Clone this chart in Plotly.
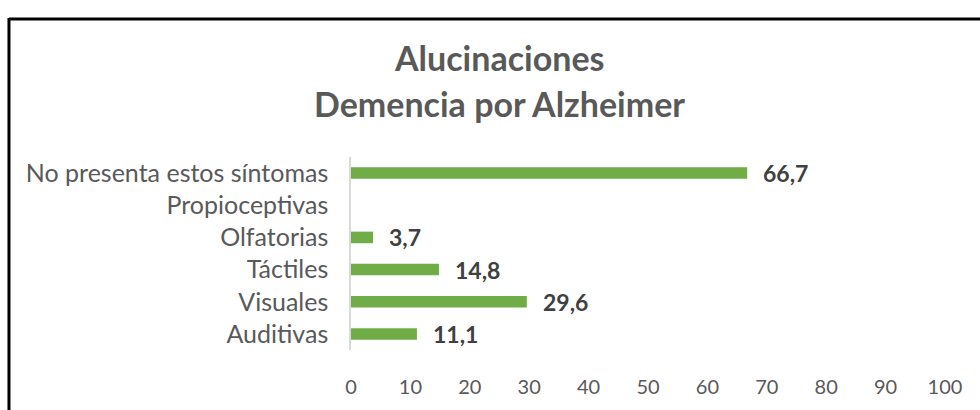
import plotly.graph_objects as go

categories = ["Auditivas", "Visuales", "Táctiles", "Olfatorias", "Propioceptivas", "No presenta estos síntomas"]
values = [11.1, 29.6, 14.8, 3.7, 0.0, 66.7]
x_ticks = [0, 10, 20, 30, 40, 50, 60, 70, 80, 90, 100]
title_lines = ["Alucinaciones", "Demencia por Alzheimer"]

labels = [f"{v:.1f}".replace(".", ",") if v > 0 else "" for v in values]

fig = go.Figure(go.Bar(
    y=categories, x=values, orientation="h",
    marker=dict(color="#70AD47", line=dict(width=0)),
    hoverinfo="skip",
))

annotations = [
    dict(x=v, y=c, text=f"<b>{t}</b>", showarrow=False, xanchor="left", xshift=14,
         font=dict(family="Lato", size=23, color="#404040"), xref="x", yref="y")
    for c, v, t in zip(categories, values, labels) if t
]
title_pos = [(0.2508, 1.5137), (0.2508, 1.2793)]
for line, (tx, ty) in zip(title_lines, title_pos):
    annotations.append(dict(
        x=tx, y=ty, xref="paper", yref="paper",
        text=f"<b>{line}</b>", showarrow=False,
        font=dict(family="Lato", size=34, color="#595959"), xanchor="center", yanchor="middle",
    ))

fig.update_layout(
    width=980, height=410,
    margin=dict(l=351, r=35, t=157, b=53),
    paper_bgcolor="white", plot_bgcolor="white",
    bargap=0.64,
    showlegend=False,
    annotations=annotations,
    xaxis=dict(range=[0, 100], tickvals=x_ticks, showgrid=False, zeroline=False, showline=False,
               tickfont=dict(family="Lato", size=20, color="#595959"), ticks="", ticklabelstandoff=23,
               fixedrange=True),
    yaxis=dict(showgrid=False, zeroline=False, showline=True, linecolor="#D9D9D9", linewidth=1.5,
               tickfont=dict(family="Lato", size=25, color="#595959"), ticks="", ticklabelstandoff=16,
               fixedrange=True),
    shapes=[
        dict(type="line", xref="paper", yref="paper", x0=-0.5758, x1=1.2, y0=1.715, y1=1.715,
             line=dict(color="black", width=3)),
        dict(type="line", xref="paper", yref="paper", x0=-0.5758, x1=-0.5758, y0=1.72, y1=-0.4,
             line=dict(color="black", width=3)),
    ],
)

fig.write_html("out.html", config={"displayModeBar": False},
               post_script="document.body.style.margin='0';document.body.style.overflow='hidden';")
